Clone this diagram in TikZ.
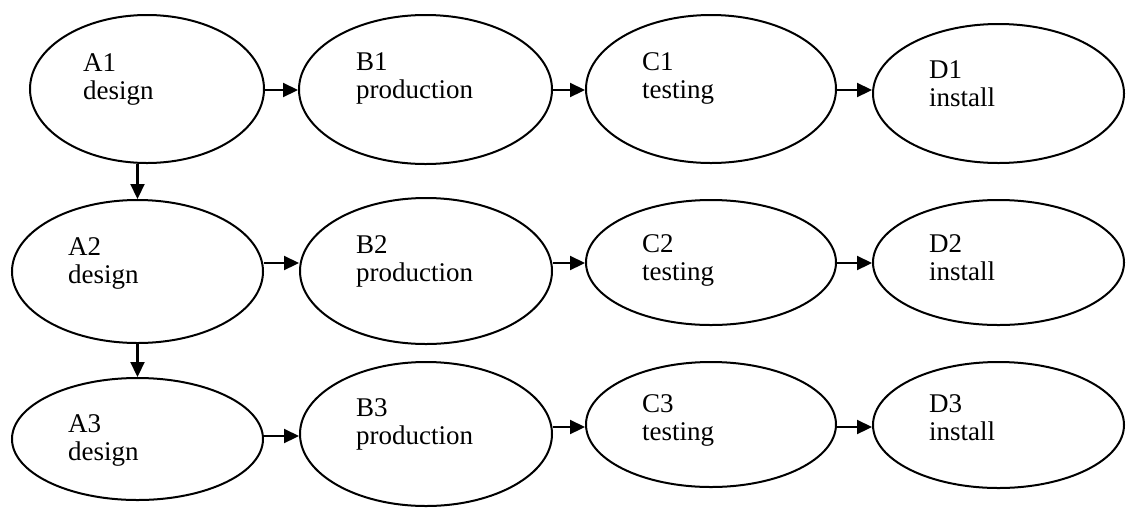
\documentclass[tikz,border=0pt]{standalone}
\usepackage{fontspec}
\setmainfont{Liberation Serif}
\usetikzlibrary{shapes.geometric,arrows.meta}
\tikzset{
  ell/.style={draw, ellipse, line width=2pt, inner sep=0pt},
  lbl/.style={anchor=base west, inner sep=0pt, font=\fontsize{27}{28.5}\selectfont},
  arr/.style={line width=2.2pt, -{Triangle[length=15pt,width=14pt]}}
}
\newcommand{\twol}[2]{\begin{tabular}[t]{@{}l@{}}#1\\#2\end{tabular}}
\begin{document}
\begin{tikzpicture}[x=1pt,y=-1pt]
\useasboundingbox (0,0) rectangle (1127,507);
% ellipses
\node[ell, minimum width=234pt, minimum height=148pt] (A1) at (147,89) {};
\node[ell, minimum width=251pt, minimum height=143pt] (A2) at (137.5,271.5) {};
\node[ell, minimum width=251pt, minimum height=122pt] (A3) at (137.5,439) {};
\node[ell, minimum width=253pt, minimum height=149pt] (B1) at (425.5,89.5) {};
\node[ell, minimum width=252pt, minimum height=146pt] (B2) at (426,271) {};
\node[ell, minimum width=252pt, minimum height=144pt] (B3) at (426,434) {};
\node[ell, minimum width=250pt, minimum height=148pt] (C1) at (711,89) {};
\node[ell, minimum width=250pt, minimum height=125pt] (C2) at (711,262.5) {};
\node[ell, minimum width=250pt, minimum height=125pt] (C3) at (711,424.5) {};
\node[ell, minimum width=251pt, minimum height=139pt] (D1) at (998.5,93.5) {};
\node[ell, minimum width=251pt, minimum height=125pt] (D2) at (998.5,262.5) {};
\node[ell, minimum width=251pt, minimum height=126pt] (D3) at (998.5,425) {};
% labels
\node[lbl] (A1t) at (83,71) {\twol{A1}{design}};
\node[lbl] (A2t) at (68,255) {\twol{A2}{design}};
\node[lbl] (A3t) at (68,432) {\twol{A3}{design}};
\node[lbl] (B1t) at (356,70) {\twol{B1}{production}};
\node[lbl] (B2t) at (356,253) {\twol{B2}{production}};
\node[lbl] (B3t) at (356,416) {\twol{B3}{production}};
\node[lbl] (C1t) at (642,70) {\twol{C1}{testing}};
\node[lbl] (C2t) at (642,252) {\twol{C2}{testing}};
\node[lbl] (C3t) at (642,412) {\twol{C3}{testing}};
\node[lbl] (D1t) at (929,78) {\twol{D1}{install}};
\node[lbl] (D2t) at (929,252) {\twol{D2}{install}};
\node[lbl] (D3t) at (929,412) {\twol{D3}{install}};
% row heights of connectors
\coordinate (r1) at (0,90);
\coordinate (r2) at (0,263);
\coordinate (r3a) at (0,436);
\coordinate (r3b) at (0,427);
% horizontal connectors
\draw[arr] (A1.east |- r1) -- (B1.west |- r1);
\draw[arr] (B1.east |- r1) -- (C1.west |- r1);
\draw[arr] (C1.east |- r1) -- (D1.west |- r1);
\draw[arr] (A2.east |- r2) -- (B2.west |- r2);
\draw[arr] (B2.east |- r2) -- (C2.west |- r2);
\draw[arr] (C2.east |- r2) -- (D2.west |- r2);
\draw[arr] (A3.east |- r3a) -- (B3.west |- r3a);
\draw[arr] (B3.east |- r3b) -- (C3.west |- r3b);
\draw[arr] (C3.east |- r3b) -- (D3.west |- r3b);
% vertical connectors
\draw[arr] (A2.north |- A1.south) -- (A2.north);
\draw[arr] (A2.south) -- (A3.north);
\end{tikzpicture}
\end{document}
